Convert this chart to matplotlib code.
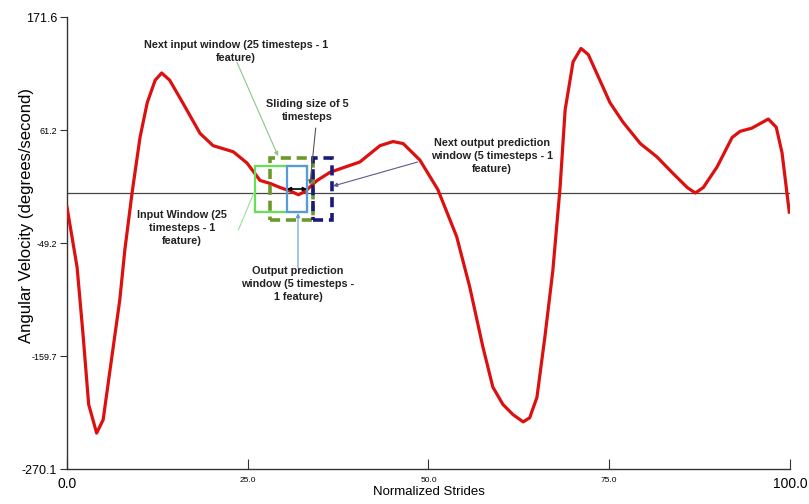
import matplotlib.pyplot as plt
from matplotlib.patches import Rectangle

plt.rcParams['font.family'] = ['Liberation Sans', 'DejaVu Sans']

# gait curve
stride = [0, 1.4, 2.2, 3.0, 4.1, 5.0, 5.9, 7.3, 8.0, 9.0, 10.1, 11.1, 12.2, 13.1, 14.2,
          16.0, 18.4, 20.2, 23.0, 24.9, 26.7, 28.1, 29.5, 31.1, 32.0, 32.9, 34.6, 36.4,
          40.5, 43.3, 45.1, 46.5, 48.8, 51.3, 53.9, 55.7, 57.5, 58.9, 60.3, 61.7, 63.1,
          64.0, 65.0, 66.1, 67.2, 68.2, 68.9, 70.0, 71.1, 72.1, 73.7, 75.1, 76.9, 79.3,
          81.6, 83.8, 85.8, 86.9, 88.0, 89.9, 92.0, 93.1, 94.7, 97.0, 98.1, 98.9, 99.9]
velocity = [-14, -73, -137, -207, -235, -222, -176, -105, -56, -0.3, 54, 88, 110, 117, 110,
            88, 58, 46, 40, 29, 12, 9, 5, 1, -2, 1, 12, 20,
            30, 46, 50, 48, 32, 3, -43, -92, -150, -190, -207, -217, -224,
            -220, -200, -141, -76, 5, 81, 128, 141, 135, 110, 88, 69, 48,
            35, 19, 5, -0.3, 5, 25, 54, 60, 63, 72, 64, 39, -19]

yticks = [171.6, 61.2, -49.2, -159.7, -270.1]
xticks = [0.0, 25.0, 50.0, 75.0, 100.0]

# windows: (x0, x1, y0, y1)
input_win = (26.0, 33.2, -18.9, 26.3)
output_win = (30.4, 33.2, -18.9, 26.3)
next_input_win = (28.1, 34.0, -26.7, 33.9)
next_output_win = (34.0, 36.6, -26.7, 33.9)

fig = plt.figure(figsize=(8.09, 5.04), dpi=100)
ax = fig.add_axes([0.0828, 0.0694, 0.8937, 0.8966])

ax.axhline(0, color='#444444', lw=0.9, zorder=1)
ax.plot(stride, velocity, color='#dd1010', lw=2.3, zorder=3)


def box(win, color, lw, ls='-'):
    x0, x1, y0, y1 = win
    r = Rectangle((x0, y0), x1 - x0, y1 - y0, fill=False, ec=color, lw=lw, ls=ls, zorder=4)
    ax.add_patch(r)


box(input_win, '#66e055', 1.6)
box(output_win, '#5a9ad8', 1.6)
box(next_input_win, '#6a9a2a', 2.6, (0, (2.8, 1.6)))
box(next_output_win, '#1a1a78', 2.6, (0, (2.8, 1.6)))

# sliding arrow
ax.annotate('', xy=(30.4, 3.6), xytext=(33.2, 3.6),
            arrowprops=dict(arrowstyle='<|-|>', color='black', lw=1.2, mutation_scale=5,
                            shrinkA=0, shrinkB=0), zorder=5)


def pointer(start, end, color, head=True):
    style = '-|>' if head else '-'
    ax.annotate('', xy=end, xytext=start,
                arrowprops=dict(arrowstyle=style, color=color, lw=0.8, mutation_scale=6,
                                shrinkA=0, shrinkB=0), zorder=5)


tkw = dict(ha='center', va='center', fontsize=7.8, fontweight='bold', color='#222222',
           linespacing=1.4)

ax.text(23.4, 138.3, 'Next input window (25 timesteps - 1\nfeature)', **tkw)
pointer((23.5, 127.6), (29.2, 35.8), '#8cc48c')

ax.text(33.3, 80.2, 'Sliding size of 5\ntimesteps', **tkw)
pointer((34.4, 63.2), (33.6, 8.0), '#555555')

ax.text(58.8, 35.8, 'Next output prediction\nwindow (5 timesteps - 1\nfeature)', **tkw)
pointer((48.5, 30.0), (36.8, 6.5), '#5a5a90')

ax.text(15.9, -34.5, 'Input Window (25\ntimesteps - 1\nfeature)', **tkw)
pointer((23.7, -36.5), (25.9, 0.7), '#99e099', head=False)

ax.text(31.95, -89.2, 'Output prediction\nwindow (5 timesteps -\n1 feature)', **tkw)
pointer((31.95, -73.6), (31.95, -20.0), '#5a9ad8')

ax.set_xlim(0, 100)
ax.set_ylim(-270.1, 171.6)
ax.set_xticks(xticks)
ax.set_yticks(yticks)
ax.set_xticklabels(['%.1f' % v for v in xticks])
ax.set_yticklabels(['%.1f' % v for v in yticks])
for i, lab in enumerate(ax.get_xticklabels()):
    lab.set_fontsize(10 if i in (0, len(xticks) - 1) else 6)
for i, lab in enumerate(ax.get_yticklabels()):
    lab.set_fontsize(9 if i in (0, len(yticks) - 1) else 6.5)

ax.tick_params(axis='x', direction='in', length=7, pad=6, color='#333333')
ax.tick_params(axis='y', direction='out', length=5, pad=2, color='#333333')
for s in ['top', 'right']:
    ax.spines[s].set_visible(False)
for s in ['left', 'bottom']:
    ax.spines[s].set_color('#333333')
    ax.spines[s].set_linewidth(1.0)

ax.set_xlabel('Normalized Strides', fontsize=9.5, labelpad=-4)
ax.set_ylabel('Angular Velocity (degrees/second)', fontsize=12)
ax.yaxis.set_label_coords(-0.045, 0.562)

fig.savefig('out.png', dpi=100)
